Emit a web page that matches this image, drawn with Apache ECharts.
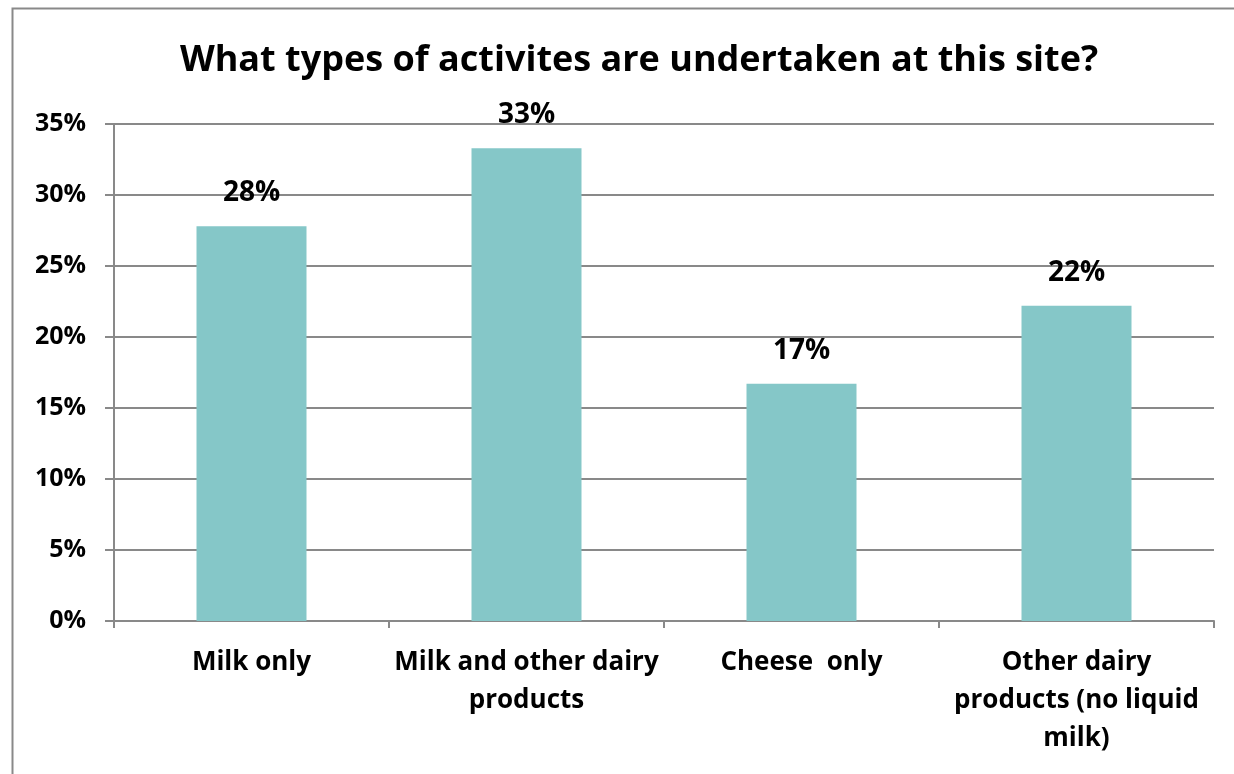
<!DOCTYPE html>
<html>
<head>
<meta charset="utf-8">
<script src="https://cdn.jsdelivr.net/npm/echarts@6/dist/echarts.min.js"></script>
<style>
  html, body { margin: 0; padding: 0; background: #fff; }
  #main { width: 1234px; height: 774px; }
</style>
</head>
<body>
<div id="main"></div>
<script>
// chart data
var chartTitle = 'What types of activites are undertaken at this site?';
var categories = ['Milk only', 'Milk and other dairy\nproducts', 'Cheese  only', 'Other dairy\nproducts (no liquid\nmilk)'];
var shares = [27.8, 33.3, 16.7, 22.2];
var yTicks = [0, 5, 10, 15, 20, 25, 30, 35];

var gray = '#898989';
var font = '"Open Sans", sans-serif';

var myChart = echarts.init(document.getElementById('main'));
var option = {
    backgroundColor: '#fff',
    animation: false,
    title: {
        text: chartTitle,
        left: 634,
        textAlign: 'center',
        top: 38,
        textStyle: { fontFamily: font, fontWeight: 'bold', fontSize: 36, color: '#000' }
    },
    graphic: [{
        type: 'rect',
        shape: { x: 12.5, y: 8.5, width: 1260, height: 800 },
        style: { fill: null, stroke: gray, lineWidth: 2 }
    }],
    grid: { left: 114, right: 20, top: 124, bottom: 153 },
    xAxis: {
        type: 'category',
        data: categories,
        axisLine: { lineStyle: { color: gray, width: 2 } },
        axisTick: { show: true, length: 7, lineStyle: { color: gray, width: 2 } },
        axisLabel: {
            margin: 23,
            interval: 0,
            lineHeight: 38,
            fontFamily: font, fontWeight: 'bold', fontSize: 26, color: '#000'
        }
    },
    yAxis: {
        type: 'value',
        min: yTicks[0],
        max: yTicks[yTicks.length - 1],
        interval: 5,
        axisLine: { show: true, lineStyle: { color: gray, width: 2 } },
        axisTick: { show: true, length: 9, lineStyle: { color: gray, width: 2 } },
        splitLine: { lineStyle: { color: gray, width: 2 } },
        axisLabel: {
            margin: 28,
            formatter: '{value}%',
            fontFamily: font, fontWeight: 'bold', fontSize: 25, color: '#000'
        }
    },
    series: [{
        type: 'bar',
        data: shares,
        barWidth: 110,
        itemStyle: { color: '#85C7C8' },
        label: {
            show: true,
            position: 'top',
            distance: 19,
            formatter: function (p) { return Math.round(p.value) + '%'; },
            fontFamily: font, fontWeight: 'bold', fontSize: 28, color: '#000'
        }
    }]
};
myChart.setOption(option);
</script>
</body>
</html>
